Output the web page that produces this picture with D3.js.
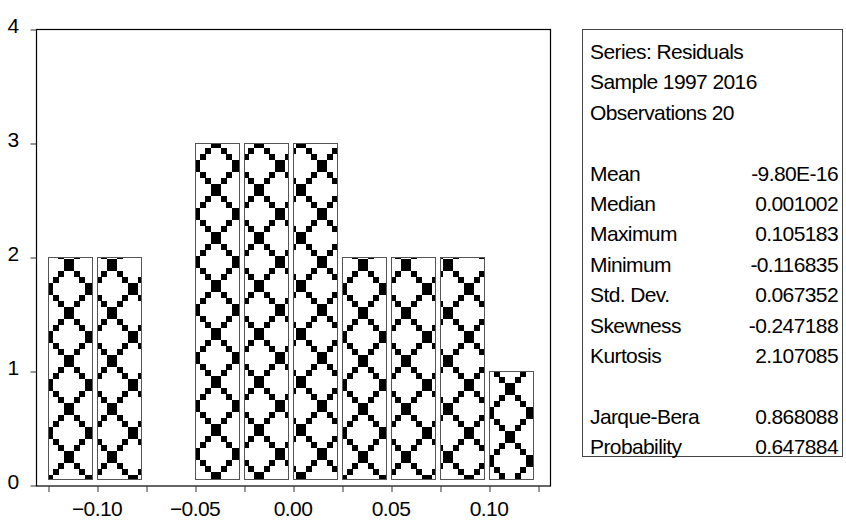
<!DOCTYPE html>
<html>
<head>
<meta charset="utf-8">
<script src="https://cdn.jsdelivr.net/npm/d3@7"></script>
<style>
  body { margin: 0; background: #fff; }
  svg { display: block; }
  text { font-family: "Liberation Sans", Arial, sans-serif; font-size: 21px; letter-spacing: -0.6px; fill: #000; }
</style>
</head>
<body>
<svg id="chart"></svg>
<script>
// Dimension constants
const WIDTH = 846;
const HEIGHT = 521;

// histogram data: left edge of each bin and its count
const binStarts = [-0.125, -0.100, -0.075, -0.050, -0.025, 0.000, 0.025, 0.050, 0.075, 0.100];
const binWidth = 0.025;
const counts = [2, 2, 0, 3, 3, 3, 2, 2, 2, 1];

// axis ticks
const xTicks = [-0.125, -0.100, -0.075, -0.050, -0.025, 0.000, 0.025, 0.050, 0.075, 0.100, 0.125];
const xLabels = [-0.10, -0.05, 0.00, 0.05, 0.10];
const yTicks = [0, 1, 2, 3, 4];

// statistics box
const headerLines = ['Series: Residuals', 'Sample 1997 2016', 'Observations 20'];
const statNames = ['Mean', 'Median', 'Maximum', 'Minimum', 'Std. Dev.', 'Skewness', 'Kurtosis', '', 'Jarque-Bera', 'Probability'];
const statValues = ['-9.80E-16', '0.001002', '0.105183', '-0.116835', '0.067352', '-0.247188', '2.107085', '', '0.868088', '0.647884'];

const svg = d3.select('#chart')
    .attr('width', WIDTH)
    .attr('height', HEIGHT);

svg.append('rect')
    .attr('width', WIDTH)
    .attr('height', HEIGHT)
    .attr('fill', '#fff');

// scales
const x = d3.scaleLinear()
    .domain([-0.125, 0.125])
    .range([48, 538]);

const y = d3.scaleLinear()
    .domain([0, 4])
    .range([485, 29]);

// diamond pattern tile: big squares at the diamond corners,
// small squares stepping along the diagonals between them
const TW = 42;
const TH = 48;
const PHASE = [0, 36, 29];            // horizontal shift, by bar position
const VPHASE = { 1: 18, 2: 8, 3: -1 }; // vertical shift, by bar height
const BIG_W = 10, BIG_H = 12;
const bigCentres = [[TW / 2, 0], [TW / 2, TH], [0, TH / 2], [TW, TH / 2]];
const diagonals = [
    [[TW / 2, 0], [0, TH / 2]], [[TW / 2, 0], [TW, TH / 2]],
    [[0, TH / 2], [TW / 2, TH]], [[TW, TH / 2], [TW / 2, TH]]
];
const smallW = (TW / 2 - BIG_W) / 2;
const smallH = (TH / 2 - BIG_H) / 2;
const tileSquares = [];
bigCentres.forEach(c => tileSquares.push({ cx: c[0], cy: c[1], w: BIG_W, h: BIG_H }));
diagonals.forEach(([a, b]) => {
    [0.375, 0.625].forEach(t => {
        tileSquares.push({ cx: a[0] + (b[0] - a[0]) * t, cy: a[1] + (b[1] - a[1]) * t, w: smallW, h: smallH });
    });
});

const bins = binStarts
    .map((b, i) => ({ lo: b, hi: b + binWidth, count: counts[i], i }))
    .filter(d => d.count > 0);

const defs = svg.append('defs');
bins.forEach(d => {
    const pat = defs.append('pattern')
        .attr('id', `diamond-${d.i}`)
        .attr('patternUnits', 'userSpaceOnUse')
        .attr('width', TW)
        .attr('height', TH)
        .attr('patternTransform', `translate(${x(d.lo) + PHASE[d.i % 3]}, ${y(d.count) + VPHASE[d.count]})`);
    pat.append('rect')
        .attr('width', TW)
        .attr('height', TH)
        .attr('fill', '#fff');
    pat.selectAll('.sq')
        .data(tileSquares).enter().append('rect')
        .attr('x', s => s.cx - s.w / 2)
        .attr('y', s => s.cy - s.h / 2)
        .attr('width', s => s.w)
        .attr('height', s => s.h)
        .attr('fill', '#000')
        .attr('shape-rendering', 'crispEdges');
});

// bars
svg.selectAll('.bar')
    .data(bins).enter().append('rect')
    .attr('class', 'bar')
    .attr('x', d => x(d.lo) + 0.5)
    .attr('y', d => y(d.count) + 0.5)
    .attr('width', d => x(d.hi) - x(d.lo) - 5)
    .attr('height', d => y(0) - 6 - y(d.count))
    .attr('fill', d => `url(#diamond-${d.i})`)
    .attr('stroke', '#555')
    .attr('stroke-width', 1);

// plot frame
svg.append('rect')
    .attr('x', 36.5)
    .attr('y', y(4) + 0.5)
    .attr('width', 514)
    .attr('height', y(0) - y(4) + 0.5)
    .attr('fill', 'none')
    .attr('stroke', '#000')
    .attr('stroke-width', 1.2);

// y axis
const yAxis = svg.append('g')
    .attr('transform', 'translate(36.5, 0.5)')
    .call(d3.axisLeft(y).tickValues(yTicks).tickSize(6).tickPadding(12).tickFormat(d3.format('d')));
yAxis.select('.domain').remove();
yAxis.selectAll('line').attr('stroke', '#333');
yAxis.selectAll('text')
    .attr('dy', null)
    .attr('y', 3)
    .attr('font-size', null)
    .attr('font-family', null);

// x axis
const xAxis = svg.append('g')
    .attr('transform', `translate(0.5, ${y(0) + 1})`)
    .call(d3.axisBottom(x).tickValues(xTicks).tickSize(6).tickFormat(''));
xAxis.select('.domain').remove();
xAxis.selectAll('line').attr('stroke', '#333');

svg.append('g')
    .selectAll('text')
    .data(xLabels).enter().append('text')
    .attr('x', d => x(d))
    .attr('y', 516)
    .attr('text-anchor', 'middle')
    .text(d => d3.format('.2f')(d));

// statistics box
const BOX_X = 582.5;
const ROW0 = 59;
const ROW_H = 30.4;

svg.append('rect')
    .attr('x', BOX_X)
    .attr('y', 29.5)
    .attr('width', 260)
    .attr('height', 427)
    .attr('fill', '#fff')
    .attr('stroke', '#444')
    .attr('stroke-width', 1);

svg.selectAll('.header')
    .data(headerLines).enter().append('text')
    .attr('class', 'header')
    .attr('x', 590)
    .attr('y', (d, i) => ROW0 + i * ROW_H)
    .text(d => d);

svg.selectAll('.stat-name')
    .data(statNames).enter().append('text')
    .attr('class', 'stat-name')
    .attr('x', 590)
    .attr('y', (d, i) => ROW0 + (i + 4) * ROW_H)
    .text(d => d);

svg.selectAll('.stat-value')
    .data(statValues).enter().append('text')
    .attr('class', 'stat-value')
    .attr('x', 838)
    .attr('y', (d, i) => ROW0 + (i + 4) * ROW_H)
    .attr('text-anchor', 'end')
    .text(d => d);
</script>
</body>
</html>
